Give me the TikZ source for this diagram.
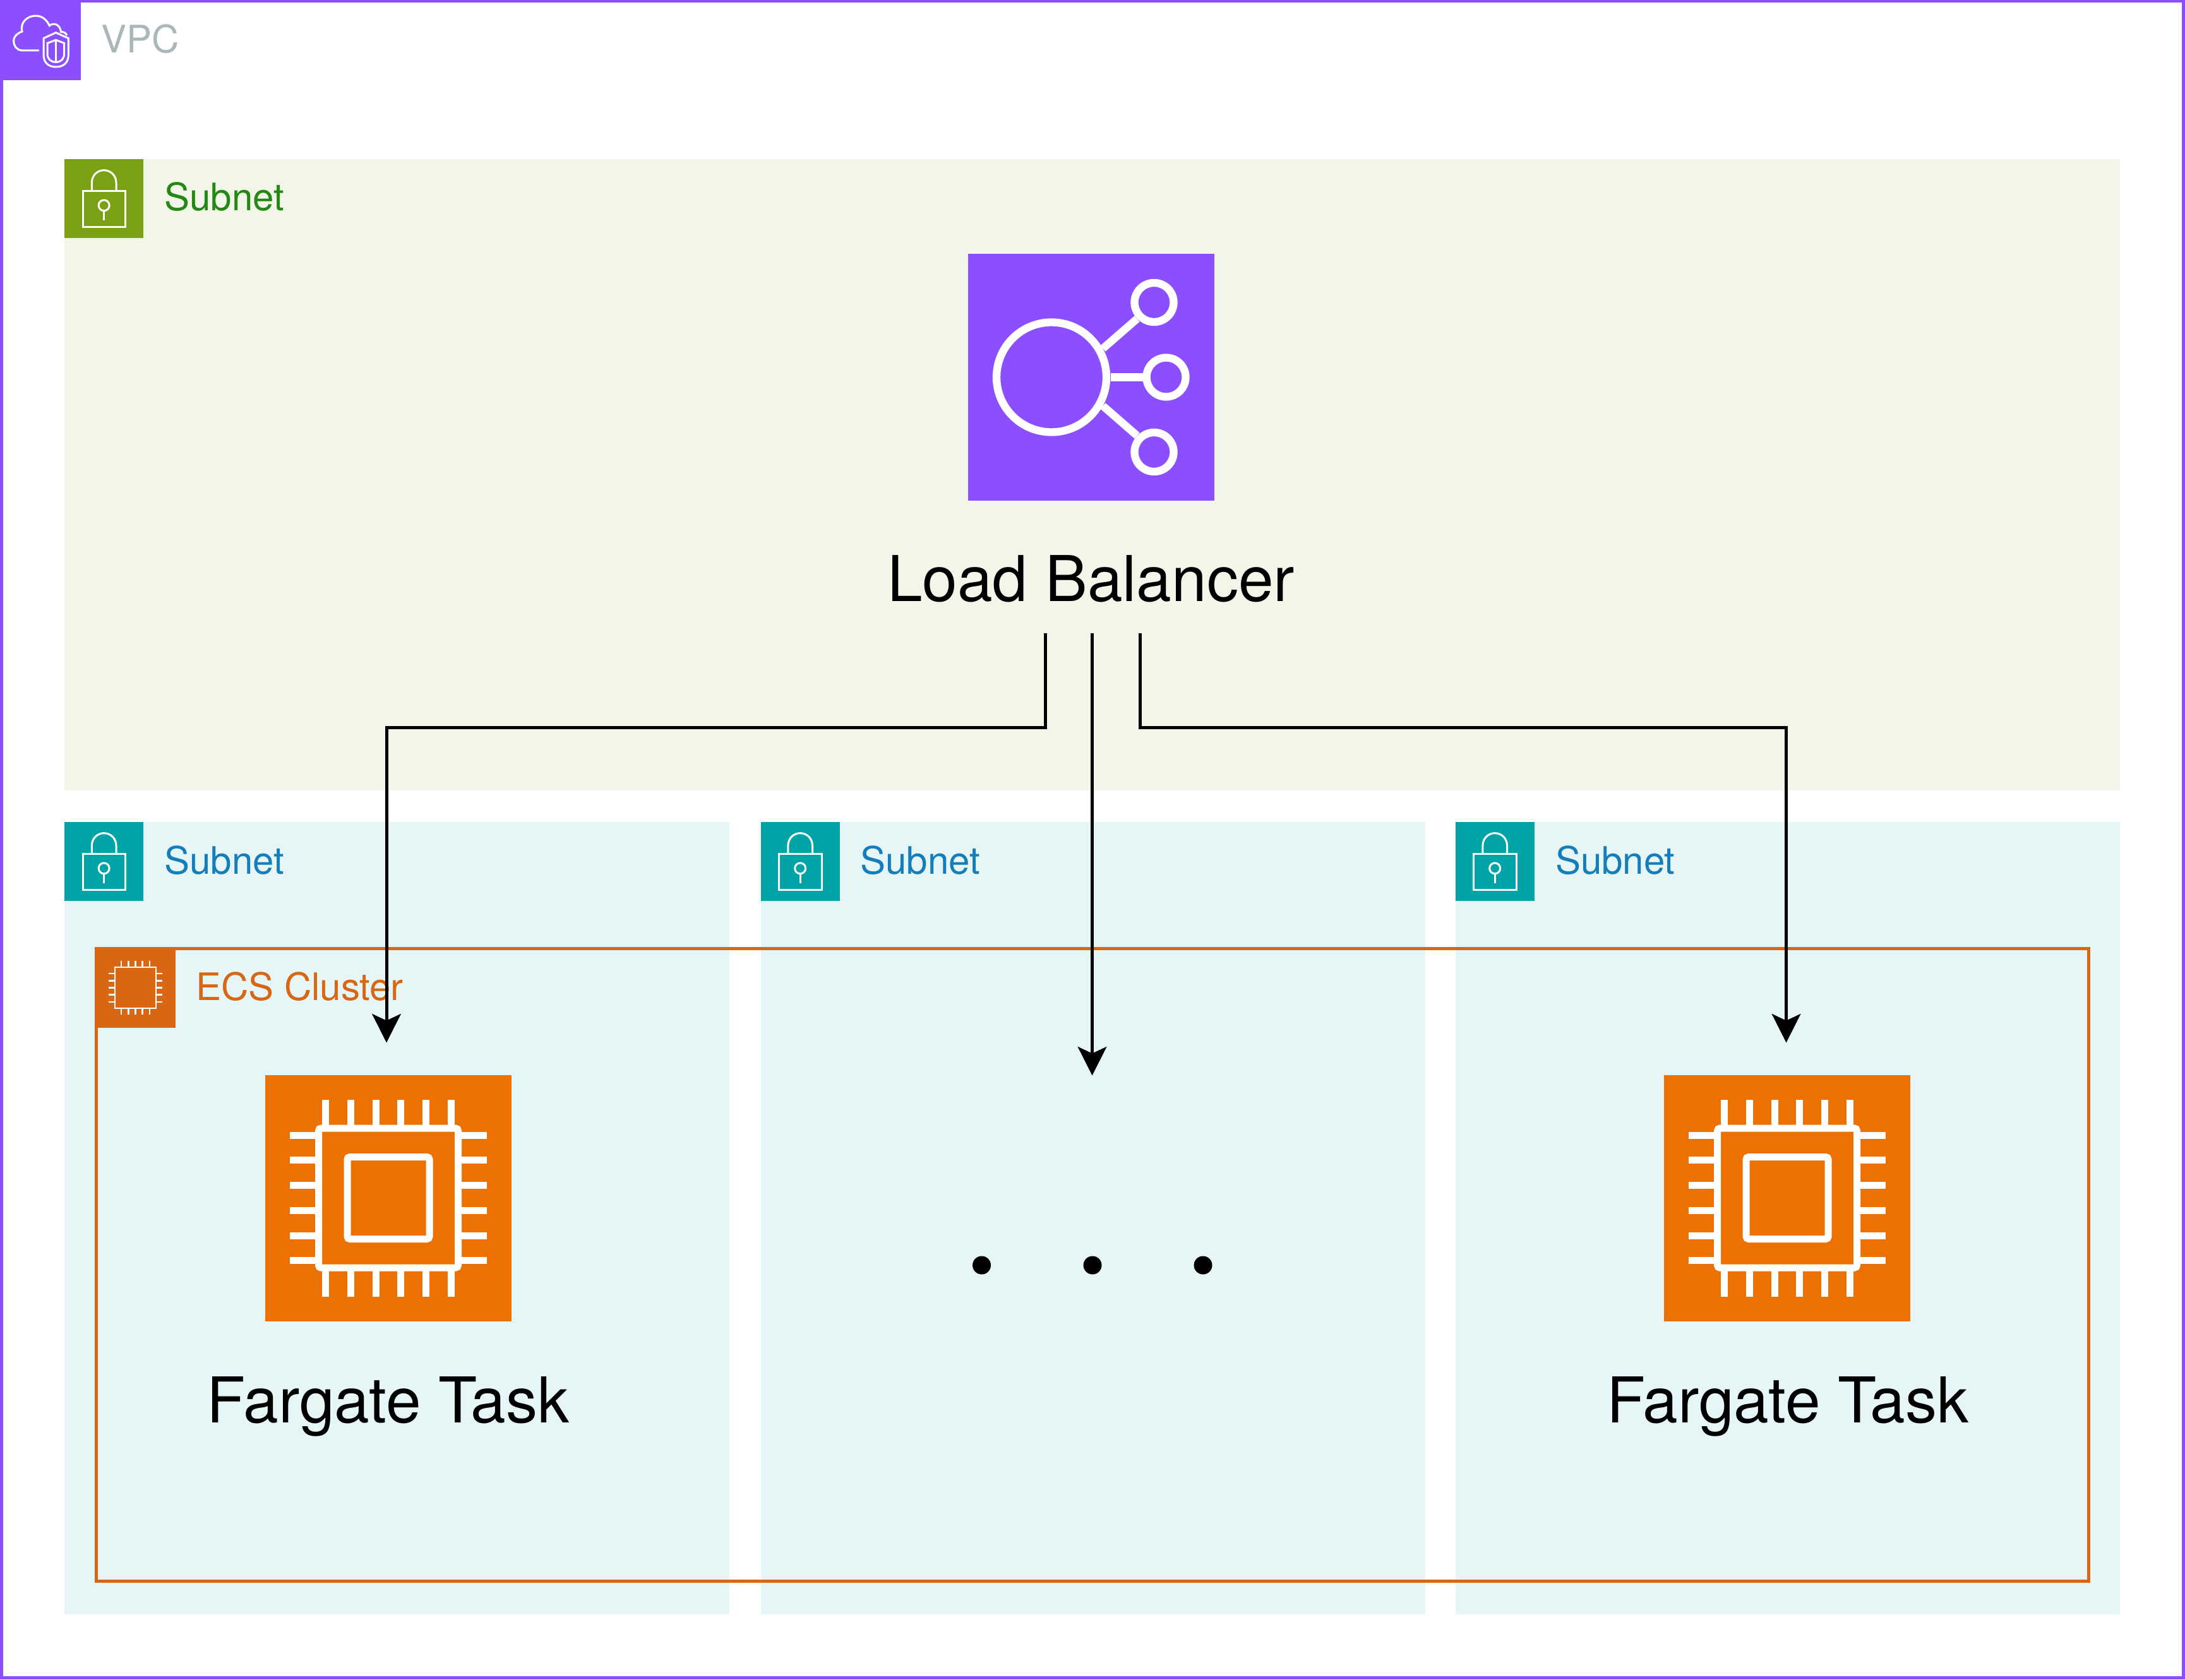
\documentclass[tikz,border=0pt]{standalone}
\usepackage{fontspec}
\setmainfont{TeX Gyre Heros}
\usetikzlibrary{arrows.meta}
\definecolor{vpcpurple}{HTML}{8C4FFF}
\definecolor{vpcgray}{HTML}{AAB7B8}
\definecolor{pubfill}{HTML}{F2F6E8}
\definecolor{pubicon}{HTML}{7AA116}
\definecolor{pubtext}{HTML}{248814}
\definecolor{privfill}{HTML}{E6F6F7}
\definecolor{privicon}{HTML}{00A4A6}
\definecolor{privtext}{HTML}{147EBA}
\definecolor{ecsline}{HTML}{D86613}
\definecolor{taskfill}{HTML}{ED7100}
\tikzset{
  flow/.style={black, line width=1pt, -{Stealth[length=9.1pt,width=9.1pt,inset=2.1pt]}},
  glyph/.style={draw=white, fill=none, line width=#1},
  groupname/.style={anchor=base west, inner sep=0pt, font=\fontsize{12}{14}\selectfont},
  tasksquare/.style={fill=taskfill, minimum size=78pt, inner sep=0pt, outer sep=0pt},
  biglabel/.style={anchor=base, inner sep=0pt, font=\fontsize{20}{24}\selectfont},
  pauledot/.style={circle, fill=black, minimum size=5.8pt, inner sep=0pt}
}
% padlock of a subnet: #1 corner, #2 square colour
\newcommand*{\LockIcon}[2]{
  \begin{scope}[shift={(#1)}]
    \fill[#2] (0,0) rectangle (25,25);
    \draw[glyph=0.6pt] (5.87,10.07) rectangle (19.33,21.53);
    \draw[glyph=0.6pt] (8.67,10.07) -- (8.67,7.53) .. controls (8.67,5.2) and (10.4,3.53) .. (12.53,3.53)
      .. controls (14.67,3.53) and (16.4,5.2) .. (16.4,7.53) -- (16.4,10.07);
    \draw[glyph=0.6pt] (12.53,14.67) circle (1.7);
    \draw[glyph=0.6pt] (12.53,16.4) -- (12.53,19.4);
  \end{scope}
}
% big chip, drawn on a named square
\newcommand*{\ChipGlyph}[1]{
  \begin{scope}[shift={(#1.center)}]
    \draw[glyph=2.2pt, rounded corners=0.8pt] (-22.1,-22.1) rectangle (22.1,22.1);
    \draw[glyph=2.2pt, rounded corners=0.8pt] (-13,-13) rectangle (13,13);
    \foreach \p in {-19.87,-11.92,-3.97,3.97,11.92,19.87} {
      \draw[glyph=2.2pt] (\p,-31.2) -- (\p,-22.1);
      \draw[glyph=2.2pt] (\p,31.2) -- (\p,22.1);
      \draw[glyph=2.2pt] (-31.2,\p) -- (-22.1,\p);
      \draw[glyph=2.2pt] (31.2,\p) -- (22.1,\p);
    }
  \end{scope}
}

\begin{document}
\begin{tikzpicture}[x=1pt, y=-1pt]

\useasboundingbox (0,0) rectangle (692,532);

% VPC
\draw[vpcpurple, line width=1pt, fill=white] (0.4,0.4) rectangle (691.4,531.4);
\fill[vpcpurple] (0,0) rectangle (25.5,25.5);
\draw[glyph=0.6pt] (12.33,16) -- (7,16) .. controls (5.6,16) and (4.4,14.8) .. (4.33,13)
  .. controls (4.33,11.5) and (5.5,10.5) .. (7,10)
  .. controls (6.3,7) and (8.7,5) .. (11.33,5)
  .. controls (13.7,5) and (15,6.7) .. (15.67,8.13)
  .. controls (17,7) and (19,7.7) .. (19.33,10.13)
  .. controls (20,10) and (20.8,10.33) .. (21.2,11.2);
\draw[glyph=0.6pt] (17.7,10.33) -- (13.8,12.13) -- (13.8,17.33)
  .. controls (13.8,20) and (15.5,21.2) .. (17.7,21.2)
  .. controls (20,21.2) and (21.67,20) .. (21.67,17.33) -- (21.67,12.13) -- cycle;
\draw[glyph=0.6pt] (17.7,12.67) -- (15,13.67) -- (15,17)
  .. controls (15,18.6) and (16,19.67) .. (17.7,19.67)
  .. controls (19.4,19.67) and (20.33,18.6) .. (20.33,17) -- (20.33,13.67) -- cycle;
\draw[glyph=0.6pt] (17.7,12.67) -- (17.7,19.67);
\node[groupname, text=vpcgray] (vpcname) at (31.8,16.8) {VPC};

% Subnets
\fill[pubfill] (20.4,50.4) rectangle (671.4,250.4);
\fill[privfill] (20.4,260.4) rectangle (230.9,511.4);
\fill[privfill] (240.9,260.4) rectangle (451.4,511.4);
\fill[privfill] (460.9,260.4) rectangle (671.4,511.4);
\LockIcon{20.4,50.4}{pubicon}
\LockIcon{20.4,260.4}{privicon}
\LockIcon{240.9,260.4}{privicon}
\LockIcon{460.9,260.4}{privicon}
\node[groupname, text=pubtext] (subnet0) at (51.9,66.8) {Subnet};
\node[groupname, text=privtext] (subnet1) at (51.9,276.8) {Subnet};
\node[groupname, text=privtext] (subnet2) at (272.3,276.8) {Subnet};
\node[groupname, text=privtext] (subnet3) at (492.4,276.8) {Subnet};

% ECS cluster
\draw[ecsline, line width=1pt] (30.4,300.4) rectangle (661.4,500.9);
\fill[ecsline] (29.9,299.9) rectangle (55.5,325.5);
\draw[glyph=0.55pt] (36.4,306.4) rectangle (49.4,319.4);
\foreach \p in {-4.5,-2.25,0,2.25,4.5} {
  \draw[glyph=0.55pt] (42.9+\p,304.4) -- (42.9+\p,306.4);
  \draw[glyph=0.55pt] (42.9+\p,319.4) -- (42.9+\p,321.4);
  \draw[glyph=0.55pt] (34.4,312.9+\p) -- (36.4,312.9+\p);
  \draw[glyph=0.55pt] (49.4,312.9+\p) -- (51.4,312.9+\p);
}
\node[groupname, text=ecsline] (ecsname) at (61.8,316.8) {ECS Cluster};

% Load balancer
\node[fill=vpcpurple, minimum size=78pt, inner sep=0pt, outer sep=0pt] (lb) at (345.5,119.5) {};
\draw[glyph=2.47pt] (333,119.5) circle (17.4);
\draw[glyph=2.47pt] (365.5,95.8) circle (6.2);
\draw[glyph=2.47pt] (369.3,119.5) circle (6.2);
\draw[glyph=2.47pt] (365.5,143.2) circle (6.2);
\draw[glyph=2.47pt] (349.3,110.4) -- (360.1,101);
\draw[glyph=2.47pt] (351.7,119.5) -- (362,119.5);
\draw[glyph=2.47pt] (349.3,128.6) -- (360.1,138);
\node[biglabel] (lbname) at (345.5,190.5) {Load Balancer};

% Fargate tasks
\node[tasksquare] (task1) at (123,379.5) {};
\ChipGlyph{task1}
\node[biglabel] (task1name) at (122.9,450.6) {Fargate Task};
\node[tasksquare] (task2) at (566,379.5) {};
\ChipGlyph{task2}
\node[biglabel] (task2name) at (566.1,450.6) {Fargate Task};

% Dots
\node[pauledot] (dot1) at (310.9,400.8) {};
\node[pauledot] (dot2) at (346,400.8) {};
\node[pauledot] (dot3) at (381,400.8) {};

% Arrows
\coordinate (lbout1) at (331,200.6);
\coordinate (lbout2) at (345.9,200.6);
\coordinate (lbout3) at (361,200.6);
\coordinate (in1) at (122.4,330.3);
\coordinate (in2) at (345.9,340.7);
\coordinate (in3) at (565.7,330.3);
\draw[flow] (lbout1) -- ++(0,29.9) -| (in1);
\draw[flow] (lbout2) -- (in2);
\draw[flow] (lbout3) -- ++(0,29.9) -| (in3);

\end{tikzpicture}
\end{document}
